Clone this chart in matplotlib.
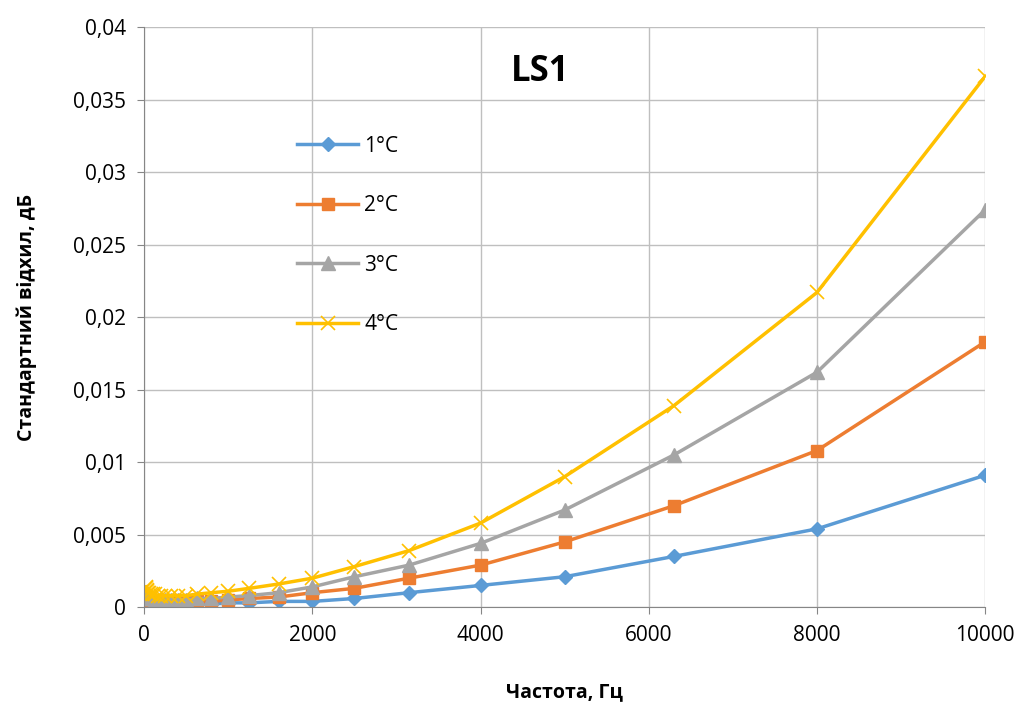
import numpy as np
import matplotlib.pyplot as plt
from matplotlib.ticker import FuncFormatter

plt.rcParams['font.family'] = ['Open Sans', 'DejaVu Sans']

freq = [20, 25, 31.5, 40, 50, 63, 80, 100, 125, 160, 200, 250, 315, 400, 500,
        630, 800, 1000, 1250, 1600, 2000, 2500, 3150, 4000, 5000, 6300, 8000, 10000]

t1 = [0.0003, 0.0003, 0.0003, 0.0002, 0.0002, 0.0002, 0.0002, 0.0002, 0.0002, 0.0002,
      0.0002, 0.0002, 0.0002, 0.0002, 0.0002, 0.0002, 0.0002, 0.0003, 0.0003, 0.0004,
      0.0004, 0.0006, 0.0010, 0.0015, 0.0021, 0.0035, 0.0054, 0.0091]
t2 = [0.0007, 0.0007, 0.0006, 0.0006, 0.0005, 0.0005, 0.0005, 0.0004, 0.0004, 0.0004,
      0.0004, 0.0004, 0.0004, 0.0004, 0.0004, 0.0004, 0.0004, 0.0005, 0.0006, 0.0007,
      0.0010, 0.0013, 0.0020, 0.0029, 0.0045, 0.0070, 0.0108, 0.0183]
t3 = [0.0008, 0.0008, 0.0007, 0.0007, 0.0006, 0.0006, 0.0006, 0.0006, 0.0005, 0.0005,
      0.0005, 0.0005, 0.0005, 0.0005, 0.0005, 0.0006, 0.0006, 0.0007, 0.0008, 0.0010,
      0.0014, 0.0021, 0.0029, 0.0044, 0.0067, 0.0105, 0.0162, 0.0274]
t4 = [0.0014, 0.0013, 0.0012, 0.0011, 0.0010, 0.0010, 0.0009, 0.0009, 0.0009, 0.0008,
      0.0008, 0.0008, 0.0008, 0.0008, 0.0008, 0.0009, 0.0010, 0.0011, 0.0013, 0.0016,
      0.0020, 0.0028, 0.0039, 0.0058, 0.0090, 0.0139, 0.0217, 0.0366]

labels = ['1°C', '2°C', '3°C', '4°C']

fig = plt.figure(figsize=(10.22, 7.11), dpi=100)
ax = fig.add_axes([0.141, 0.146, 0.823, 0.816])

ax.plot(freq, t1, color='#5B9BD5', lw=2.5, marker='D', ms=7, label=labels[0])
ax.plot(freq, t2, color='#ED7D31', lw=2.5, marker='s', ms=8.5, label=labels[1])
ax.plot(freq, t3, color='#A5A5A5', lw=2.5, marker='^', ms=10, label=labels[2])
ax.plot(freq, t4, color='#FFC000', lw=2.5, marker='x', ms=10, mew=1.2, label=labels[3])

ax.set_xlim(0, 10000)
ax.set_ylim(0, 0.04)
ax.set_xticks(range(0, 10001, 2000))
ax.set_yticks(np.arange(0, 0.0401, 0.005))
ax.yaxis.set_major_formatter(FuncFormatter(lambda v, p: ('%.3f' % v).rstrip('0').rstrip('.').replace('.', ',')))
ax.grid(True, color='#BFBFBF', lw=1)
ax.set_axisbelow(True)
for s in ['top', 'right']:
    ax.spines[s].set_visible(False)
for s in ['left', 'bottom']:
    ax.spines[s].set_color('#868686')
ax.tick_params(labelsize=15, color='#868686', length=5, pad=8)

ax.set_xlabel('Частота, Гц', fontsize=14, fontweight='bold', labelpad=26)
ax.set_ylabel('Стандартний відхил, дБ', fontsize=14, fontweight='bold', labelpad=26)
ax.text(4710, 0.0369, 'LS1', fontsize=25, fontweight='bold', ha='center', va='center')

ax.legend(loc='upper left', bbox_to_anchor=(0.16, 0.845), frameon=False, fontsize=15,
          labelspacing=1.85, handlelength=2.9, handletextpad=0.3)

fig.savefig('out.png', dpi=100)
